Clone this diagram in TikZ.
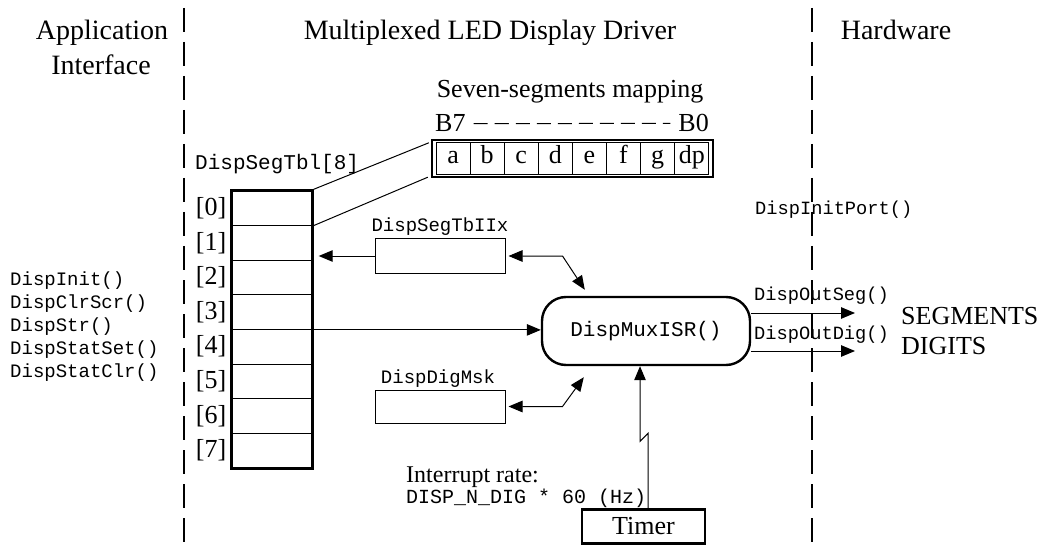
\documentclass[tikz,border=0pt]{standalone}
\usepackage{fontspec}
\setmainfont{Liberation Serif}
\setmonofont{Liberation Mono}
\usetikzlibrary{arrows.meta,fit}
\begin{document}
\begin{tikzpicture}[x=1pt,y=-1pt,
  thinl/.style={line width=1pt},
  thickl/.style={line width=2.4pt},
  arr/.style={-{Triangle[length=14pt,width=11.5pt]}, line width=1pt},
  darr/.style={{Triangle[length=14pt,width=11.5pt]}-{Triangle[length=14pt,width=11.5pt]}, line width=1pt},
  hdr/.style={font=\fontsize{28}{30}\selectfont, inner sep=0},
  txt/.style={font=\fontsize{25}{28}\selectfont, inner sep=0},
  mono/.style={font=\ttfamily\fontsize{19}{22}\selectfont, inner sep=0},
  sepline/.style={line width=1.2pt, dash pattern=on 24pt off 10pt},
  cell/.style={draw, thinl, inner sep=0, text height=17pt, text depth=6pt, font=\fontsize{26}{28}\selectfont},
  rowcell/.style={draw, thinl, inner sep=0, minimum width=80pt, minimum height=34.6pt},
  membox/.style={draw, thinl, inner sep=0, minimum width=130pt, minimum height=34pt}]
\useasboundingbox (0,0) rectangle (1043,545);

% headers
\node[hdr, anchor=base] (happ) at (102,40) {Application};
\node[hdr, anchor=base] (hint) at (101,75) {Interface};
\node[hdr, anchor=base] (hdrv) at (490,40) {Multiplexed LED Display Driver};
\node[hdr, anchor=base] (hhw) at (896,40) {Hardware};

% separators
\coordinate (s1a) at (184,8); \coordinate (s1b) at (184,545);
\coordinate (s2a) at (812,8); \coordinate (s2b) at (812,545);
\draw[sepline] (s1a) -- (s1b);
\draw[sepline] (s2a) -- (s2b);

% seven segment mapping
\node[txt, font=\fontsize{26}{28}\selectfont, anchor=base] (segt) at (570,98) {Seven-segments mapping};
\node[txt, font=\fontsize{26}{28}\selectfont, anchor=base west] (b7) at (435,132) {B7};
\node[txt, font=\fontsize{26}{28}\selectfont, anchor=base east] (b0) at (709,132) {B0};
\draw[thinl, dash pattern=on 14pt off 7pt] ([xshift=8pt]b7.east) -- ([xshift=-8pt]b0.west);
\node[draw, thickl, inner sep=0, minimum width=281pt, minimum height=37pt] (seg) at (572.5,158.5) {};
\foreach \l [count=\i from 0] in {a,b,c,d,e,f,g,dp}
  \node[cell, minimum width=34.1pt, minimum height=32pt] (c\i) at ({436+34.1*(\i+0.5)},158.5) {\l};

% array
\node[mono, font=\ttfamily\fontsize{21}{24}\selectfont, anchor=base west] (tbl) at (195,170) {DispSegTbl[8]};
\foreach \i in {0,...,7} {
  \node[rowcell] (r\i) at (272,{191+34.6*(\i+0.5)}) {};
  \node[txt, font=\fontsize{26}{28}\selectfont, anchor=center] (l\i) at (211,{191+34.6*(\i+0.5)}) {[\i]};
}
\node[draw, thickl, inner sep=0, fit=(r0)(r7)] (arr) {};
\draw[thinl] (arr.north east) -- ([xshift=-2pt,yshift=-4pt]seg.north west);
\draw[thinl] (r0.south east) -- ([xshift=-3pt,yshift=1pt]seg.south west);

% left API list
\node[mono, anchor=base west] (f1) at (10,285) {DispInit()};
\node[mono, anchor=base west] (f2) at (10,308) {DispClrScr()};
\node[mono, anchor=base west] (f3) at (10,331) {DispStr()};
\node[mono, anchor=base west] (f4) at (10,354) {DispStatSet()};
\node[mono, anchor=base west] (f5) at (10,377) {DispStatClr()};

% ISR
\node[draw, thickl, rounded corners=24pt, minimum width=208pt, minimum height=68pt, font=\ttfamily\fontsize{21}{24}\selectfont] (isr) at (646,331) {DispMuxISR()};

% DispSegTbIIx
\node[mono, anchor=base] (sixl) at (440,232) {DispSegTbIIx};
\node[membox] (six) at (440,256) {};
\draw[arr, shorten >=5pt] (six.west) -- (six.west -| arr.east);
\draw[darr, shorten <=3pt] (six.east) -- ([xshift=57pt]six.east) -- ([xshift=44pt,yshift=6pt]isr.north west);

% DispDigMsk
\node[mono, anchor=base] (dml) at (438,383) {DispDigMsk};
\node[membox, minimum height=33pt] (dm) at (440,406.5) {};
\draw[darr, shorten <=3pt] (dm.east) -- ([xshift=57pt]dm.east) -- ([xshift=43pt,yshift=-11pt]isr.south west);

% array to ISR
\draw[arr] (r3.south east) -- (r3.south east -| isr.west);

% timer
\node[draw, thickl, inner sep=0, minimum width=123pt, minimum height=34pt, font=\fontsize{26}{28}\selectfont] (tim) at (643.5,526.5) {Timer};
\draw[arr] ([xshift=4.5pt]tim.north) -- ++(0,-75) -- ++(-8,8) -- ([xshift=-6pt]isr.south);
\node[txt, font=\fontsize{24}{26}\selectfont, anchor=base west] (irl) at (406,482) {Interrupt rate:};
\node[mono, font=\ttfamily\fontsize{20}{22}\selectfont, anchor=base west] (irv) at (406,503) {DISP\_N\_DIG * 60 (Hz)};

% outputs
\node[mono, font=\ttfamily\fontsize{18.7}{22}\selectfont, anchor=base west] (initp) at (755,215) {DispInitPort()};
\node[mono, font=\ttfamily\fontsize{18.7}{22}\selectfont, anchor=base west] (osl) at (754,300) {DispOutSeg()};
\node[mono, font=\ttfamily\fontsize{18.7}{22}\selectfont, anchor=base west] (odl) at (754,339) {DispOutDig()};
\node[txt, font=\fontsize{26}{28}\selectfont, anchor=base west] (segs) at (901,324) {SEGMENTS};
\node[txt, font=\fontsize{26}{28}\selectfont, anchor=base west] (digs) at (901,354) {DIGITS};
\coordinate (oseg) at (855,313);
\coordinate (odig) at (855,351);
\draw[arr] (isr.east |- oseg) -- (oseg);
\draw[arr] (isr.east |- odig) -- (odig);
\end{tikzpicture}
\end{document}
